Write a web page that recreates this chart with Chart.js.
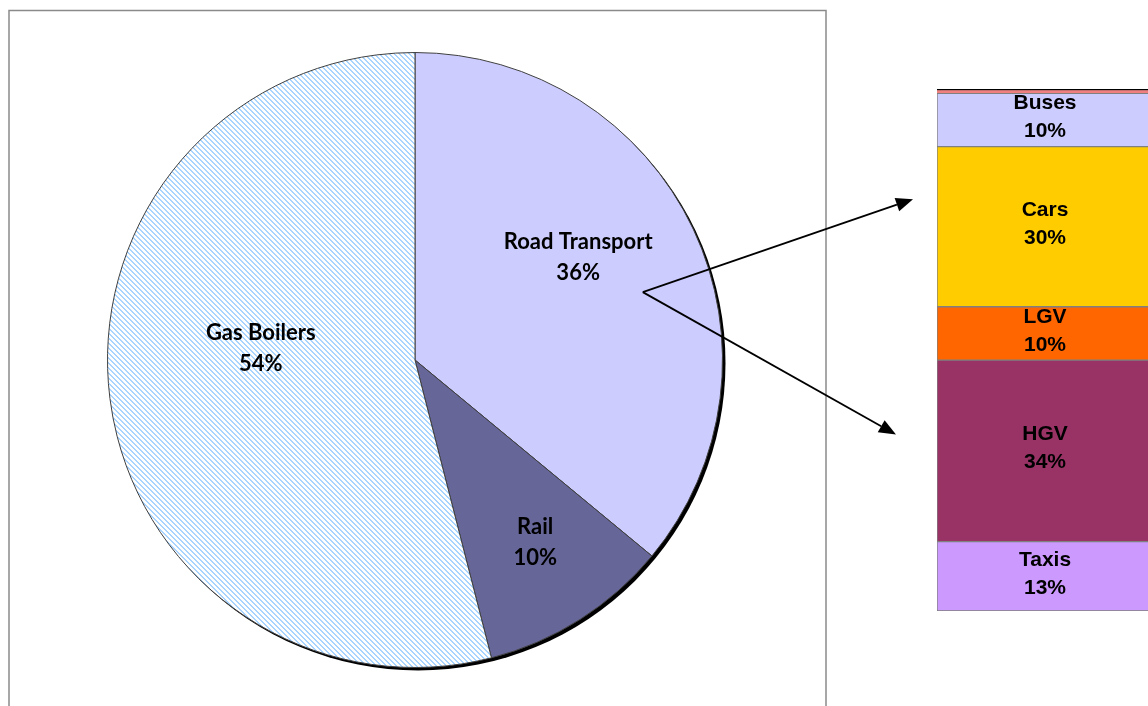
<!DOCTYPE html>
<html>
<head>
<meta charset="utf-8">
<script src="https://cdn.jsdelivr.net/npm/chart.js@4.4.1/dist/chart.umd.min.js"></script>
<style>
  html, body { margin: 0; padding: 0; background: #fff; overflow: hidden; width: 1148px; height: 706px; }
  canvas { position: absolute; left: 0; top: 0; }
  #bar { pointer-events: none; }
</style>
</head>
<body>
<canvas id="pie" width="1148" height="706"></canvas>
<canvas id="bar" width="1153" height="706"></canvas>
<script>
// Emission shares by sector
const sectors = ['Road Transport', 'Rail', 'Gas Boilers'];
const sectorShares = [36, 10, 54];

// Breakdown of road transport, stacked bottom to top
const roadModes = ['Taxis', 'HGV', 'LGV', 'Cars', 'Buses', 'Other'];
const roadShares = [13, 34, 10, 30, 10, 0.8];
const roadLabelled = [true, true, true, true, true, false];

// Diagonal light-blue hatch used for the gas boiler slice
function makeHatch() {
  const n = 5;
  const c = document.createElement('canvas');
  c.width = n; c.height = n;
  const g = c.getContext('2d');
  g.fillStyle = '#ffffff';
  g.fillRect(0, 0, n, n);
  g.fillStyle = '#A8D4FF';
  for (let y = 0; y < n; y++) {
    for (let x = 0; x < n; x++) {
      if ((((x - y) % n) + n) % n < 2) g.fillRect(x, y, 1, 1);
    }
  }
  return g.createPattern(c, 'repeat');
}

const sectorColours = ['#CCCCFF', '#666699', makeHatch()];
const modeColours = ['#CC99FF', '#993366', '#FF6600', '#FFCC00', '#CCCCFF', '#F08080'];

// Label placement inside each slice: radius fraction and angular nudge (degrees)
const sliceLabelPos = [
  { r: 0.627, da: -7 },
  { r: 0.71, da: -1 },
  { r: 0.503, da: 11.6 }
];

const framePlugin = {
  id: 'frame',
  beforeDraw(chart) {
    const ctx = chart.ctx;
    ctx.save();
    ctx.strokeStyle = '#8a8a8a';
    ctx.lineWidth = 1.5;
    ctx.strokeRect(9, 10.5, 817, 760);
    ctx.restore();
  }
};

const pieShadow = {
  id: 'pieShadow',
  beforeDatasetsDraw(chart) {
    const arc = chart.getDatasetMeta(0).data[0];
    if (!arc) return;
    const ctx = chart.ctx;
    ctx.save();
    ctx.fillStyle = '#000';
    ctx.beginPath();
    ctx.arc(arc.x + 3, arc.y + 3, arc.outerRadius, 0, Math.PI * 2);
    ctx.fill();
    ctx.restore();
  }
};

const pieLabels = {
  id: 'pieLabels',
  afterDatasetsDraw(chart) {
    const ctx = chart.ctx;
    const meta = chart.getDatasetMeta(0);
    const values = chart.data.datasets[0].data;
    ctx.save();
    ctx.fillStyle = '#000';
    ctx.font = 'bold 22px Lato, "Open Sans", sans-serif';
    ctx.textAlign = 'center';
    ctx.textBaseline = 'middle';
    meta.data.forEach((arc, i) => {
      const pos = sliceLabelPos[i];
      const mid = (arc.startAngle + arc.endAngle) / 2 + pos.da * Math.PI / 180;
      const x = arc.x + Math.cos(mid) * arc.outerRadius * pos.r;
      const y = arc.y + Math.sin(mid) * arc.outerRadius * pos.r;
      ctx.fillText(chart.data.labels[i], x, y - 15.5);
      ctx.fillText(values[i] + '%', x, y + 15.5);
    });
    ctx.restore();
  }
};

const pieChart = new Chart(document.getElementById('pie'), {
  type: 'pie',
  data: {
    labels: sectors,
    datasets: [{
      data: sectorShares,
      backgroundColor: sectorColours,
      borderColor: '#404040',
      borderWidth: 1
    }]
  },
  options: {
    responsive: false,
    animation: false,
    layout: { padding: { left: 107, right: 425, top: 52, bottom: 38 } },
    plugins: { legend: { display: false }, tooltip: { enabled: false } }
  },
  plugins: [framePlugin, pieShadow, pieLabels]
});

const barLabels = {
  id: 'barLabels',
  afterDatasetsDraw(chart) {
    const ctx = chart.ctx;
    ctx.save();
    ctx.fillStyle = '#000';
    ctx.font = 'bold 21px "Liberation Sans", Arial, sans-serif';
    ctx.textAlign = 'center';
    ctx.textBaseline = 'middle';
    chart.data.datasets.forEach((ds, i) => {
      if (!roadLabelled[i]) return;
      const el = chart.getDatasetMeta(i).data[0];
      const cy = (el.y + el.base) / 2;
      ctx.fillText(ds.label, el.x, cy - 16.5);
      ctx.fillText(ds.data[0] + '%', el.x, cy + 11.5);
    });
    ctx.restore();
  }
};

function drawArrow(ctx, x0, y0, x1, y1) {
  const a = Math.atan2(y1 - y0, x1 - x0);
  const len = 17, half = 7;
  const bx = x1 - Math.cos(a) * len, by = y1 - Math.sin(a) * len;
  ctx.beginPath();
  ctx.moveTo(x0, y0);
  ctx.lineTo(bx, by);
  ctx.stroke();
  ctx.beginPath();
  ctx.moveTo(x1, y1);
  ctx.lineTo(bx - Math.sin(a) * half, by + Math.cos(a) * half);
  ctx.lineTo(bx + Math.sin(a) * half, by - Math.cos(a) * half);
  ctx.closePath();
  ctx.fill();
}

const connectors = {
  id: 'connectors',
  afterDraw(chart) {
    const road = pieChart.getDatasetMeta(0).data[0];
    if (!road) return;
    const ang = -16.6 * Math.PI / 180;
    const sx = road.x + Math.cos(ang) * road.outerRadius * 0.773;
    const sy = road.y + Math.sin(ang) * road.outerRadius * 0.773;
    const area = chart.chartArea;
    const h = area.bottom - area.top;
    const ctx = chart.ctx;
    ctx.save();
    ctx.strokeStyle = '#000';
    ctx.fillStyle = '#000';
    ctx.lineWidth = 1.8;
    drawArrow(ctx, sx, sy, area.left - 24, area.top + 0.211 * h);
    drawArrow(ctx, sx, sy, area.left - 41, area.top + 0.662 * h);
    ctx.restore();
  }
};

const totalRoad = roadShares.reduce((s, v) => s + v, 0);

new Chart(document.getElementById('bar'), {
  type: 'bar',
  data: {
    labels: ['Road Transport'],
    datasets: roadModes.map((m, i) => ({
      label: m,
      data: [roadShares[i]],
      backgroundColor: modeColours[i],
      borderColor: roadLabelled[i] ? '#808080' : '#000',
      borderWidth: roadLabelled[i] ? { top: 1, bottom: 1, left: 1, right: 0 } : { top: 1.5, bottom: 0, left: 0, right: 0 },
      borderSkipped: false,
      barPercentage: 1,
      categoryPercentage: 1
    }))
  },
  options: {
    responsive: false,
    animation: false,
    layout: { padding: { left: 937, right: 0, top: 89, bottom: 95 } },
    scales: {
      x: { stacked: true, display: false },
      y: { stacked: true, display: false, min: 0, max: totalRoad }
    },
    plugins: { legend: { display: false }, tooltip: { enabled: false } }
  },
  plugins: [barLabels, connectors]
});
</script>
</body>
</html>
